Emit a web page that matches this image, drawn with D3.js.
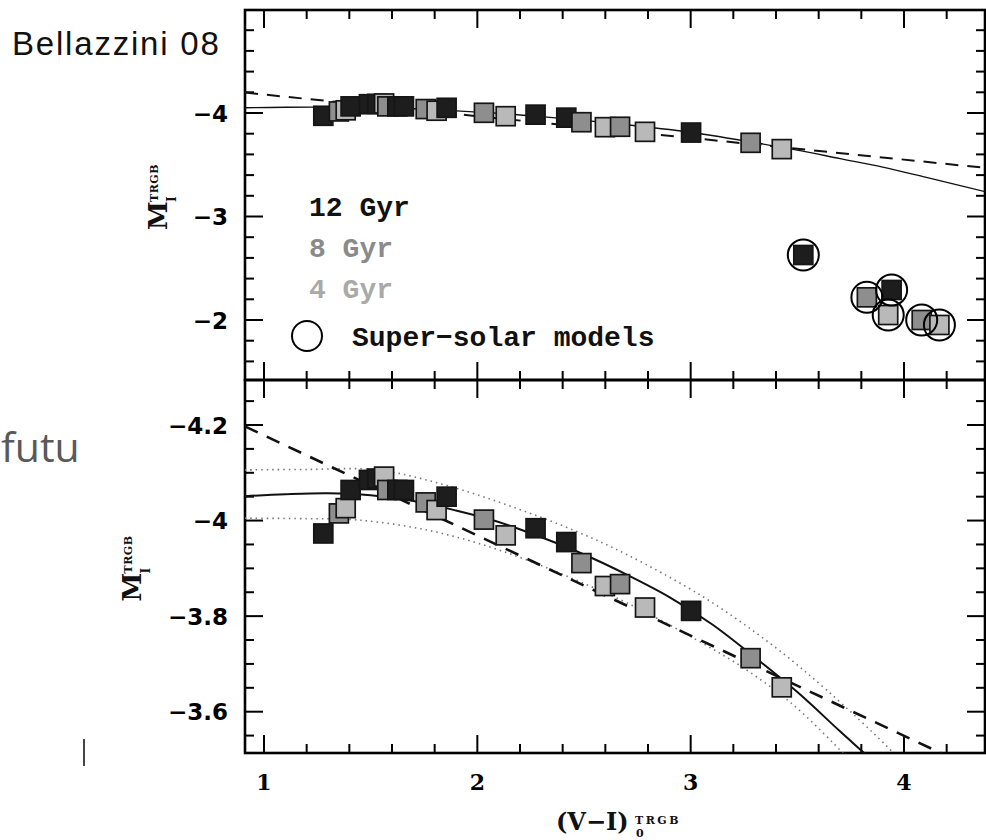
<!DOCTYPE html>
<html><head><meta charset="utf-8">
<script src="https://cdn.jsdelivr.net/npm/d3@7"></script>
<style>body{margin:0;background:#fff}svg{display:block}</style>
</head><body>
<svg id="chart" width="986" height="840"></svg>
<script>
// ---------- data ----------
const colorV  = [1.278, 1.351, 1.383, 1.406, 1.492, 1.531, 1.563, 1.578, 1.625, 1.656, 1.758, 1.809, 1.856, 2.031, 2.133, 2.273, 2.417, 2.488, 2.598, 2.669, 2.786, 3.002, 3.281, 3.427];
const magTRGB = [-3.973, -4.015, -4.026, -4.064, -4.085, -4.088, -4.092, -4.064, -4.064, -4.064, -4.038, -4.022, -4.050, -4.002, -3.969, -3.984, -3.955, -3.911, -3.863, -3.867, -3.818, -3.811, -3.712, -3.651];
const ageGyr  = [12, 8, 4, 12, 12, 12, 4, 8, 12, 12, 8, 4, 12, 8, 4, 12, 12, 8, 4, 8, 4, 12, 8, 4];

const superV   = [3.528, 3.826, 3.942, 3.926, 4.083, 4.166];
const superMag = [-2.628, -2.219, -2.290, -2.048, -2.000, -1.952];
const superAge = [12, 8, 12, 4, 8, 4];

const fitV   = [0.91, 1.1, 1.3, 1.5, 1.7, 1.9, 2.1, 2.3, 2.5, 2.7, 2.9, 3.1, 3.3, 3.5, 3.7, 3.9, 4.1, 4.4];
const fitMag = [-4.051, -4.055, -4.057, -4.053, -4.041, -4.021, -3.997, -3.965, -3.929, -3.887, -3.840, -3.783, -3.714, -3.641, -3.559, -3.477, -3.380, -3.230];

const upperV   = [0.91, 1.2, 1.53, 1.844, 2.156, 2.466, 2.70, 3.06, 3.387, 3.638, 3.919, 4.0];
const upperMag = [-4.106, -4.107, -4.106, -4.075, -4.030, -3.977, -3.929, -3.840, -3.738, -3.645, -3.528, -3.490];

const lowerV   = [0.91, 1.2, 1.375, 1.531, 1.766, 2.0, 2.235, 2.47, 2.70, 3.013, 3.26, 3.479, 3.667, 3.72];
const lowerMag = [-4.005, -4.004, -4.003, -3.997, -3.980, -3.953, -3.917, -3.874, -3.828, -3.754, -3.688, -3.615, -3.535, -3.510];

const dashV   = [0.911, 4.38];
const dashMag = [-4.197, -3.470];

const xTicks       = [1, 2, 3, 4];
const topYTicks    = [-4, -3, -2];
const botYTicks    = [-4.2, -4.0, -3.8, -3.6];
const legendAges   = [12, 8, 4];
const legendLabels = ["12 Gyr", "8 Gyr", "4 Gyr"];

// ---------- style ----------
const ageFill = {12: "#1d1d1d", 8: "#8e8e8e", 4: "#b9b9b9"};
const ageText = {12: "#111111", 8: "#8a8a8a", 4: "#a9a9a9"};

// ---------- layout ----------
const svg = d3.select("#chart");
const L = 245, R = 985;
const topP = {t: 10, b: 380};
const botP = {t: 380, b: 753};

const x = d3.scaleLinear().domain([1, 4]).range([264, 904]);
const yTop = d3.scaleLinear().domain([-4, -2]).range([113, 320]);
const yBot = d3.scaleLinear().domain([-4.2, -3.6]).range([425, 711.7]);

const xMin = x.invert(L), xMax = x.invert(R);

function range(a, b, step) {
  const out = [];
  const n = Math.floor((b - a) / step + 1e-6);
  for (let i = 0; i <= n; i++) out.push(+(a + i * step).toFixed(4));
  return out;
}

const defs = svg.append("defs");
[["clipTop", topP], ["clipBot", botP]].forEach(([id, p]) => {
  defs.append("clipPath").attr("id", id).append("rect")
    .attr("x", L).attr("y", p.t).attr("width", R - L).attr("height", p.b - p.t);
});

function drawTicks(p, yScale, minorStep, majorStep) {
  const g = svg.append("g").attr("stroke", "#000").attr("stroke-width", 2);
  const majLen = 18, minLen = 9;
  const xs = range(1.0, 4.2, 0.2).filter(v => v >= xMin && v <= xMax);
  xs.forEach(v => {
    const isMaj = Math.abs(v - Math.round(v)) < 1e-6;
    const len = isMaj ? majLen : minLen;
    g.append("line").attr("x1", x(v)).attr("x2", x(v)).attr("y1", p.t).attr("y2", p.t + len);
    g.append("line").attr("x1", x(v)).attr("x2", x(v)).attr("y1", p.b).attr("y2", p.b - len);
  });
  const lo = yScale.invert(p.t), hi = yScale.invert(p.b);
  const start = Math.ceil(lo / minorStep - 1e-6) * minorStep;
  const ys = range(start, hi, minorStep);
  ys.forEach(v => {
    const isMaj = Math.abs(v / majorStep - Math.round(v / majorStep)) < 1e-4;
    const len = isMaj ? majLen : minLen;
    const yy = yScale(v);
    if (Math.abs(yy - p.t) < 2 || Math.abs(yy - p.b) < 2) return;
    g.append("line").attr("x1", L).attr("x2", L + len).attr("y1", yy).attr("y2", yy);
    g.append("line").attr("x1", R).attr("x2", R - len).attr("y1", yy).attr("y2", yy);
  });
}

drawTicks(topP, yTop, 0.2, 1);
drawTicks(botP, yBot, 0.05, 0.2);

[topP, botP].forEach(p => {
  svg.append("rect").attr("x", L).attr("y", p.t).attr("width", R - L).attr("height", p.b - p.t)
    .attr("fill", "none").attr("stroke", "#000").attr("stroke-width", 2.6);
});

const lineGen = (ys) => d3.line().x(d => x(d[0])).y(d => ys(d[1])).curve(d3.curveCatmullRom.alpha(0.5));
const zip = (a, b) => a.map((v, i) => [v, b[i]]);

// ---------- top panel ----------
const gTop = svg.append("g").attr("clip-path", "url(#clipTop)");
gTop.append("path").datum(zip(fitV, fitMag)).attr("d", lineGen(yTop))
  .attr("fill", "none").attr("stroke", "#111").attr("stroke-width", 1.4);
gTop.append("path").datum(zip(dashV, dashMag)).attr("d", lineGen(yTop))
  .attr("fill", "none").attr("stroke", "#111").attr("stroke-width", 2).attr("stroke-dasharray", "13,9");

const sq = 19;
function squares(g, xs, ys, ages, yScale) {
  g.selectAll(null).data(xs.map((v, i) => ({v, m: ys[i], a: ages[i]}))).enter().append("rect")
    .attr("x", d => x(d.v) - sq / 2).attr("y", d => yScale(d.m) - sq / 2)
    .attr("width", sq).attr("height", sq)
    .attr("fill", d => ageFill[d.a]).attr("stroke", "#151515").attr("stroke-width", 1.7);
}
squares(gTop, colorV, magTRGB, ageGyr, yTop);
squares(gTop, superV, superMag, superAge, yTop);
gTop.selectAll(null).data(superV.map((v, i) => ({v, m: superMag[i]}))).enter().append("circle")
  .attr("cx", d => x(d.v)).attr("cy", d => yTop(d.m)).attr("r", 15.5)
  .attr("fill", "none").attr("stroke", "#000").attr("stroke-width", 2);

// legend
const legFont = "'Liberation Mono', 'Courier New', monospace";
legendLabels.forEach((t, i) => {
  svg.append("text").attr("x", 309).attr("y", 216 + i * 41).text(t)
    .attr("font-family", legFont).attr("font-weight", "bold").attr("font-size", 28)
    .attr("fill", ageText[legendAges[i]]);
});
svg.append("circle").attr("cx", 307).attr("cy", 336).attr("r", 15)
  .attr("fill", "none").attr("stroke", "#000").attr("stroke-width", 2);
svg.append("text").attr("x", 352).attr("y", 346).text("Super\u2212solar models")
  .attr("font-family", legFont).attr("font-weight", "bold").attr("font-size", 28).attr("fill", "#111");

// ---------- bottom panel ----------
const gBot = svg.append("g").attr("clip-path", "url(#clipBot)");
[[upperV, upperMag], [lowerV, lowerMag]].forEach(([vs, ms]) => {
  gBot.append("path").datum(zip(vs, ms)).attr("d", lineGen(yBot))
    .attr("fill", "none").attr("stroke", "#777").attr("stroke-width", 1.6).attr("stroke-dasharray", "1.5,4");
});
gBot.append("path").datum(zip(dashV, dashMag)).attr("d", lineGen(yBot))
  .attr("fill", "none").attr("stroke", "#111").attr("stroke-width", 2.6).attr("stroke-dasharray", "14,10");
gBot.append("path").datum(zip(fitV, fitMag)).attr("d", lineGen(yBot))
  .attr("fill", "none").attr("stroke", "#111").attr("stroke-width", 2);
squares(gBot, colorV, magTRGB, ageGyr, yBot);

// ---------- tick labels ----------
const tickFont = "'DejaVu Sans', sans-serif";
const serif = "'DejaVu Serif', serif";
const minus = s => s.replace("-", "\u2212").replace("\u2212", "\u2212");
topYTicks.forEach(v => {
  svg.append("text").attr("x", 228).attr("y", yTop(v) + 8.5).attr("text-anchor", "end")
    .attr("font-family", tickFont).attr("font-weight", "bold").attr("font-size", 23)
    .text(minus(d3.format(".0f")(v)));
});
botYTicks.forEach(v => {
  const lab = Math.abs(v + 4) < 1e-6 ? "\u22124" : minus(d3.format(".1f")(v));
  svg.append("text").attr("x", 228).attr("y", yBot(v) + 8.5).attr("text-anchor", "end")
    .attr("font-family", tickFont).attr("font-weight", "bold").attr("font-size", 23).text(lab);
});
xTicks.forEach(v => {
  svg.append("text").attr("x", x(v)).attr("y", 790).attr("text-anchor", "middle")
    .attr("font-family", serif).attr("font-weight", "bold")
    .attr("font-size", 22).text(v);
});

// ---------- axis titles ----------
function yTitle(cx, cy) {
  const g = svg.append("g").attr("transform", `translate(${cx},${cy}) rotate(-90)`)
    .attr("font-family", serif).attr("font-weight", "bold").attr("fill", "#111");
  g.append("text").attr("x", -33).attr("y", 0).attr("font-size", 26).text("M");
  g.append("text").attr("x", -5).attr("y", -9).attr("font-size", 11).attr("letter-spacing", 0.5).text("TRGB");
  g.append("text").attr("x", -5).attr("y", 9).attr("font-size", 12).text("I");
}
yTitle(167, (topP.t + topP.b) / 2 + 2);
yTitle(141, (botP.t + botP.b) / 2 + 2);

svg.append("text").attr("x", 556).attr("y", 830).attr("font-family", serif)
  .attr("font-weight", "bold").attr("font-size", 24).attr("fill", "#111").text("(V\u2212I)");
svg.append("text").attr("x", 635).attr("y", 824).attr("font-family", serif)
  .attr("font-weight", "bold").attr("font-size", 11).attr("letter-spacing", 2.5).attr("fill", "#111").text("TRGB");
svg.append("text").attr("x", 636).attr("y", 837).attr("font-family", serif).attr("font-weight", "bold")
  .attr("font-size", 11).attr("fill", "#111").text("0");

// ---------- slide overlays ----------
svg.append("text").attr("x", 12).attr("y", 55).attr("font-family", "'Liberation Sans', Arial, sans-serif")
  .attr("font-size", 33).attr("letter-spacing", 1.8).attr("fill", "#111").text("Bellazzini 08");
svg.append("text").attr("x", 1).attr("y", 462).attr("font-family", "'Open Sans', sans-serif")
  .attr("font-size", 41).attr("fill", "#595959").text("futu");
svg.append("line").attr("x1", 84).attr("x2", 84).attr("y1", 739).attr("y2", 766)
  .attr("stroke", "#444").attr("stroke-width", 2);
</script>
</body></html>
